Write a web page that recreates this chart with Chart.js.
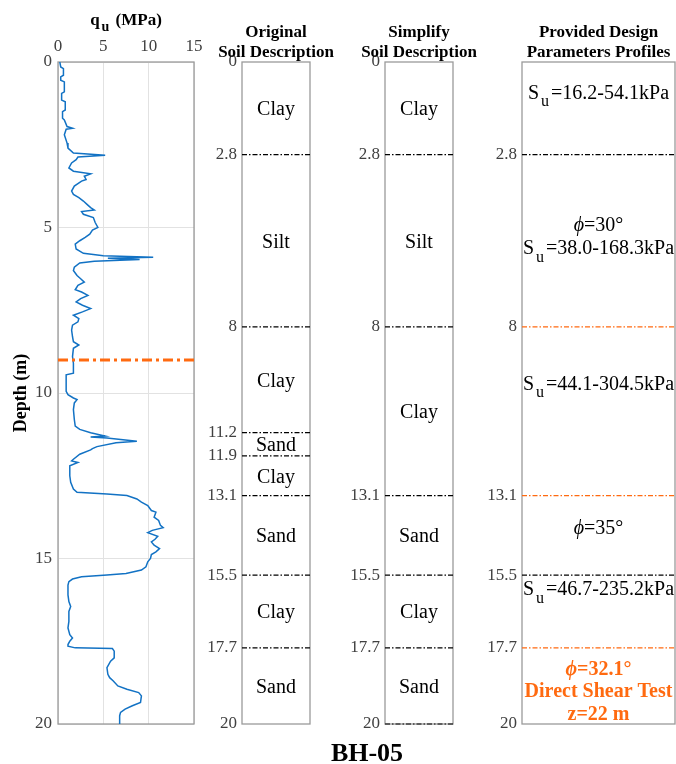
<!DOCTYPE html>
<html><head><meta charset="utf-8">
<script src="https://cdn.jsdelivr.net/npm/chart.js@4/dist/chart.umd.min.js"></script>
<style>
html,body{margin:0;padding:0;background:#fff;width:676px;height:764px;overflow:hidden;position:relative;}
canvas{position:absolute;top:0;}
#bh{position:absolute;left:267px;width:200px;top:738px;text-align:center;font:bold 26px 'Liberation Serif','Times New Roman',serif;line-height:30px;color:#000;}
</style></head><body>
<canvas id="c1" width="210" height="764" style="left:0px"></canvas>
<canvas id="c2" width="170" height="764" style="left:180px"></canvas>
<canvas id="c3" width="170" height="764" style="left:323px"></canvas>
<canvas id="c4" width="216" height="764" style="left:460px"></canvas>
<div id="bh">BH-05</div>
<script>
// ---------------- DATA ----------------
const depthM = [
0,0.15,0.2,0.4,0.45,0.55,0.6,0.9,0.95,1.15,
1.2,1.45,1.5,1.7,1.75,1.95,2.0,2.03,2.2,2.45,
2.6,2.75,2.82,2.87,2.95,3.05,3.2,3.3,3.38,3.45,
3.55,3.6,3.75,3.9,4.0,4.1,4.2,4.3,4.4,4.47,
4.52,4.6,4.7,4.85,5.0,5.08,5.2,5.3,5.4,5.5,
5.65,5.78,5.85,5.9,5.93,5.97,6.02,6.07,6.2,6.3,
6.45,6.55,6.65,6.75,6.88,6.95,7.05,7.15,7.25,7.35,
7.45,7.55,7.65,7.75,7.85,7.95,8.1,8.3,8.45,8.55,
8.65,8.9,9.1,9.4,9.45,9.95,10.05,10.15,10.2,10.3,
10.5,10.8,11.0,11.1,11.2,11.3,11.33,11.36,11.46,11.5,
11.62,11.68,11.72,11.85,12.0,12.05,12.1,12.2,12.5,12.7,
12.9,13.0,13.05,13.1,13.2,13.3,13.4,13.55,13.6,13.75,
13.85,14.0,14.07,14.15,14.22,14.33,14.42,14.5,14.6,14.7,
14.8,14.88,15.0,15.1,15.25,15.35,15.45,15.5,15.55,15.62,
15.7,15.8,16.1,16.3,16.45,16.6,16.9,17.1,17.3,17.4,
17.5,17.6,17.65,17.7,17.72,17.8,18.0,18.1,18.3,18.5,
18.6,18.7,18.85,18.95,19.05,19.15,19.35,19.45,19.55,19.65,
19.75,20.0];
const quMPa = [
0.2,0.3,0.6,0.6,0.3,0.3,0.7,0.7,0.4,0.4,
0.8,0.8,0.5,0.5,0.7,1.0,1.6,0.9,0.7,1.0,
1.1,1.7,5.2,2.2,2.0,1.5,1.2,1.7,3.6,2.9,
3.1,2.6,1.8,1.5,1.7,2.3,2.8,3.2,3.6,4.0,
2.6,2.8,3.9,4.1,4.4,3.8,3.5,3.0,2.4,1.9,
2.0,2.8,5.0,10.5,5.5,9.0,4.0,2.4,1.8,1.7,
2.1,2.5,2.9,2.2,1.9,2.6,3.3,2.5,2.0,2.7,
3.6,2.7,1.7,2.3,2.2,1.6,1.5,1.6,1.7,2.3,
1.7,1.6,1.7,1.7,0.9,0.9,1.1,1.7,2.1,1.8,
1.7,1.8,1.9,2.4,3.6,5.2,3.6,5.4,8.7,6.4,
4.3,3.8,3.6,2.4,1.7,1.5,2.2,1.3,1.3,1.4,
1.7,2.1,5.4,7.6,8.7,9.2,9.9,10.3,10.8,10.6,
11.1,11.3,11.6,10.4,9.9,11.0,10.7,10.3,10.6,11.2,
10.8,10.3,10.2,9.9,9.7,9.2,7.5,5.4,2.6,1.6,
1.2,1.1,1.1,1.2,1.4,1.2,1.2,1.1,1.3,1.6,
1.3,1.1,1.1,1.9,6.0,6.2,6.2,5.8,5.4,5.5,
5.7,6.1,6.6,7.6,8.9,9.2,9.1,8.2,7.4,6.9,
6.8,6.8];
const waterTableDepth = 9;

const originalTicks = [0, 2.8, 8, 11.2, 11.9, 13.1, 15.5, 17.7, 20];
const originalBounds = [2.8, 8, 11.2, 11.9, 13.1, 15.5, 17.7];
const originalSoils = ['Clay','Silt','Clay','Sand','Clay','Sand','Clay','Sand'];

const simplifyTicks = [0, 2.8, 8, 13.1, 15.5, 17.7, 20];
const simplifyBounds = [2.8, 8, 13.1, 15.5, 17.7, 20];
const simplifySoils = ['Clay','Silt','Clay','Sand','Clay','Sand'];

const designTicks = [2.8, 8, 13.1, 15.5, 17.7, 20];
const designBounds = [2.8, 8, 13.1, 15.5, 17.7];
const designBoundFromTest = [false, true, true, false, true];
const designTexts = ['S_u=16.2-54.1kPa','ϕ=30°','S_u=38.0-168.3kPa','S_u=44.1-304.5kPa','ϕ=35°','S_u=46.7-235.2kPa','ϕ=32.1°','Direct Shear Test','z=22 m'];
const designTextDepths = [0.9, 4.9, 5.6, 9.7, 14.05, 15.9, 18.3, 18.97, 19.67];
const designTextFromTest = [false,false,false,false,false,false,true,true,true];

// ---------------- STYLE ----------------
const SERIF = "'Liberation Serif','Times New Roman',serif";
const ORANGE = '#ff6a10';
const FRAME = '#9a9a9a';
const TICKC = '#404040';
const tickFont = {family: SERIF, size: 17};

function richText(ctx, str, x, y, size, weight, color) {
  const segs = [];
  let i = 0;
  while (i < str.length) {
    const ch = str[i];
    if (ch === '_') { segs.push({t: str[i+1], sub: true}); i += 2; continue; }
    if (ch === 'ϕ') { segs.push({t: ch, it: true}); i++; continue; }
    const last = segs[segs.length-1];
    if (last && !last.sub && !last.it) last.t += ch; else segs.push({t: ch});
    i++;
  }
  const font = s => (s.it ? 'italic ' : '') + weight + ' ' + (s.sub ? Math.round(size*0.82) : size) + 'px ' + SERIF;
  let w = 0;
  segs.forEach(s => { ctx.font = font(s); s.w = ctx.measureText(s.t).width + (s.sub ? 4 : 0); w += s.w; });
  let cx = x - w/2;
  ctx.save();
  ctx.fillStyle = color; ctx.textBaseline = 'alphabetic'; ctx.textAlign = 'left';
  segs.forEach(s => {
    ctx.font = font(s);
    ctx.fillText(s.t, cx + (s.sub ? 2 : 0), y + size*0.34 + (s.sub ? size*0.38 : 0));
    cx += s.w;
  });
  ctx.restore();
}

const framePlugin = {
  id: 'frame',
  beforeDatasetsDraw(chart) {
    const a = chart.chartArea, c = chart.ctx;
    c.save(); c.strokeStyle = FRAME; c.lineWidth = 1.3;
    c.strokeRect(a.left, a.top, a.right - a.left, a.bottom - a.top);
    c.restore();
  }
};
function titlePlugin(lines, ys, size) {
  return {
    id: 'ttl',
    afterDraw(chart) {
      const a = chart.chartArea;
      lines.forEach((t, k) => richText(chart.ctx, t, (a.left + a.right)/2, ys[k], size, 'bold', '#000'));
    }
  };
}
function textPlugin(texts, depths, colors, weights, size) {
  return {
    id: 'txt',
    afterDatasetsDraw(chart) {
      const a = chart.chartArea, ys = chart.scales.y;
      texts.forEach((t, k) => richText(chart.ctx, t, (a.left + a.right)/2, ys.getPixelForValue(depths[k]), size, weights[k], colors[k]));
    }
  };
}

Chart.defaults.animation = false;
Chart.defaults.font.family = SERIF;

// ---------------- PANEL 1: q_u profile ----------------
new Chart(document.getElementById('c1'), {
  type: 'scatter',
  data: {
    datasets: [
      { data: [{x: 0, y: waterTableDepth}, {x: 15, y: waterTableDepth}], showLine: true,
        borderColor: ORANGE, borderWidth: 3, borderDash: [10,4,3,4], pointRadius: 0 },
      { data: depthM.map((d, k) => ({x: quMPa[k], y: d})), showLine: true,
        borderColor: '#1272c4', borderWidth: 1.5, pointRadius: 0, tension: 0 }
    ]
  },
  options: {
    responsive: false, animation: false,
    layout: {padding: {left: 0, right: 16, top: 0, bottom: 40}},
    plugins: {legend: {display: false}, tooltip: {enabled: false}},
    scales: {
      x: { type: 'linear', position: 'top', min: 0, max: 15,
        ticks: {stepSize: 5, font: tickFont, color: TICKC, padding: 5, maxRotation: 0},
        grid: {color: '#e2e2e2', drawTicks: false}, border: {display: false},
        afterFit: s => { s.height = 62; } },
      y: { type: 'linear', reverse: true, min: 0, max: 20,
        ticks: {stepSize: 5, font: tickFont, color: TICKC, padding: 6},
        grid: {color: '#e2e2e2', drawTicks: false}, border: {display: false},
        title: {display: true, text: 'Depth (m)', font: {family: SERIF, size: 18, weight: 'bold'}, color: '#000', padding: {top: 11, bottom: 0}},
        afterFit: s => { s.width = 58; } }
    }
  },
  plugins: [framePlugin, titlePlugin(['q_u (MPa)'], [19], 17)]
});

// ---------------- SOIL PANELS ----------------
function mids(bounds, n) {
  const edges = [0].concat(bounds.filter(b => b < 20)).concat([20]);
  const out = [];
  for (let k = 0; k < n; k++) out.push((edges[k] + edges[k+1]) / 2);
  return out;
}
function soilPanel(id, ticks, bounds, boundColors, texts, depths, colors, weights, titleLines, textSize, padRight) {
  const datasets = bounds.map((b, k) => ({
    data: [{x: 0, y: b}, {x: 1, y: b}], showLine: true, borderColor: boundColors[k],
    borderWidth: 1.2, borderDash: [5,2,1.5,2], pointRadius: 0, clip: 2
  }));
  new Chart(document.getElementById(id), {
    type: 'scatter',
    data: {datasets},
    options: {
      responsive: false, animation: false,
      layout: {padding: {left: 0, right: padRight, top: 62, bottom: 40}},
      plugins: {legend: {display: false}, tooltip: {enabled: false}},
      scales: {
        x: {type: 'linear', min: 0, max: 1, display: false},
        y: {type: 'linear', reverse: true, min: 0, max: 20,
          afterBuildTicks: ax => { ax.ticks = ticks.map(v => ({value: v})); },
          ticks: {autoSkip: false, font: tickFont, color: TICKC, padding: 5, callback: v => String(v)},
          grid: {display: false, drawTicks: false}, border: {display: false},
          afterFit: s => { s.width = 62; } }
      }
    },
    plugins: [framePlugin, titlePlugin(titleLines, [31, 51], 17), textPlugin(texts, depths, colors, weights, textSize)]
  });
}

soilPanel('c2', originalTicks, originalBounds, originalBounds.map(() => '#000'),
  originalSoils, mids(originalBounds, originalSoils.length), originalSoils.map(() => '#000'), originalSoils.map(() => 'normal'),
  ['Original', 'Soil Description'], 20, 40);
soilPanel('c3', simplifyTicks, simplifyBounds, simplifyBounds.map(() => '#000'),
  simplifySoils, mids(simplifyBounds, simplifySoils.length), simplifySoils.map(() => '#000'), simplifySoils.map(() => 'normal'),
  ['Simplify', 'Soil Description'], 20, 40);
soilPanel('c4', designTicks, designBounds, designBoundFromTest.map(f => f ? ORANGE : '#000'),
  designTexts, designTextDepths, designTextFromTest.map(f => f ? ORANGE : '#000'), designTextFromTest.map(f => f ? 'bold' : 'normal'),
  ['Provided Design', 'Parameters Profiles'], 20, 1);
</script>
</body></html>
